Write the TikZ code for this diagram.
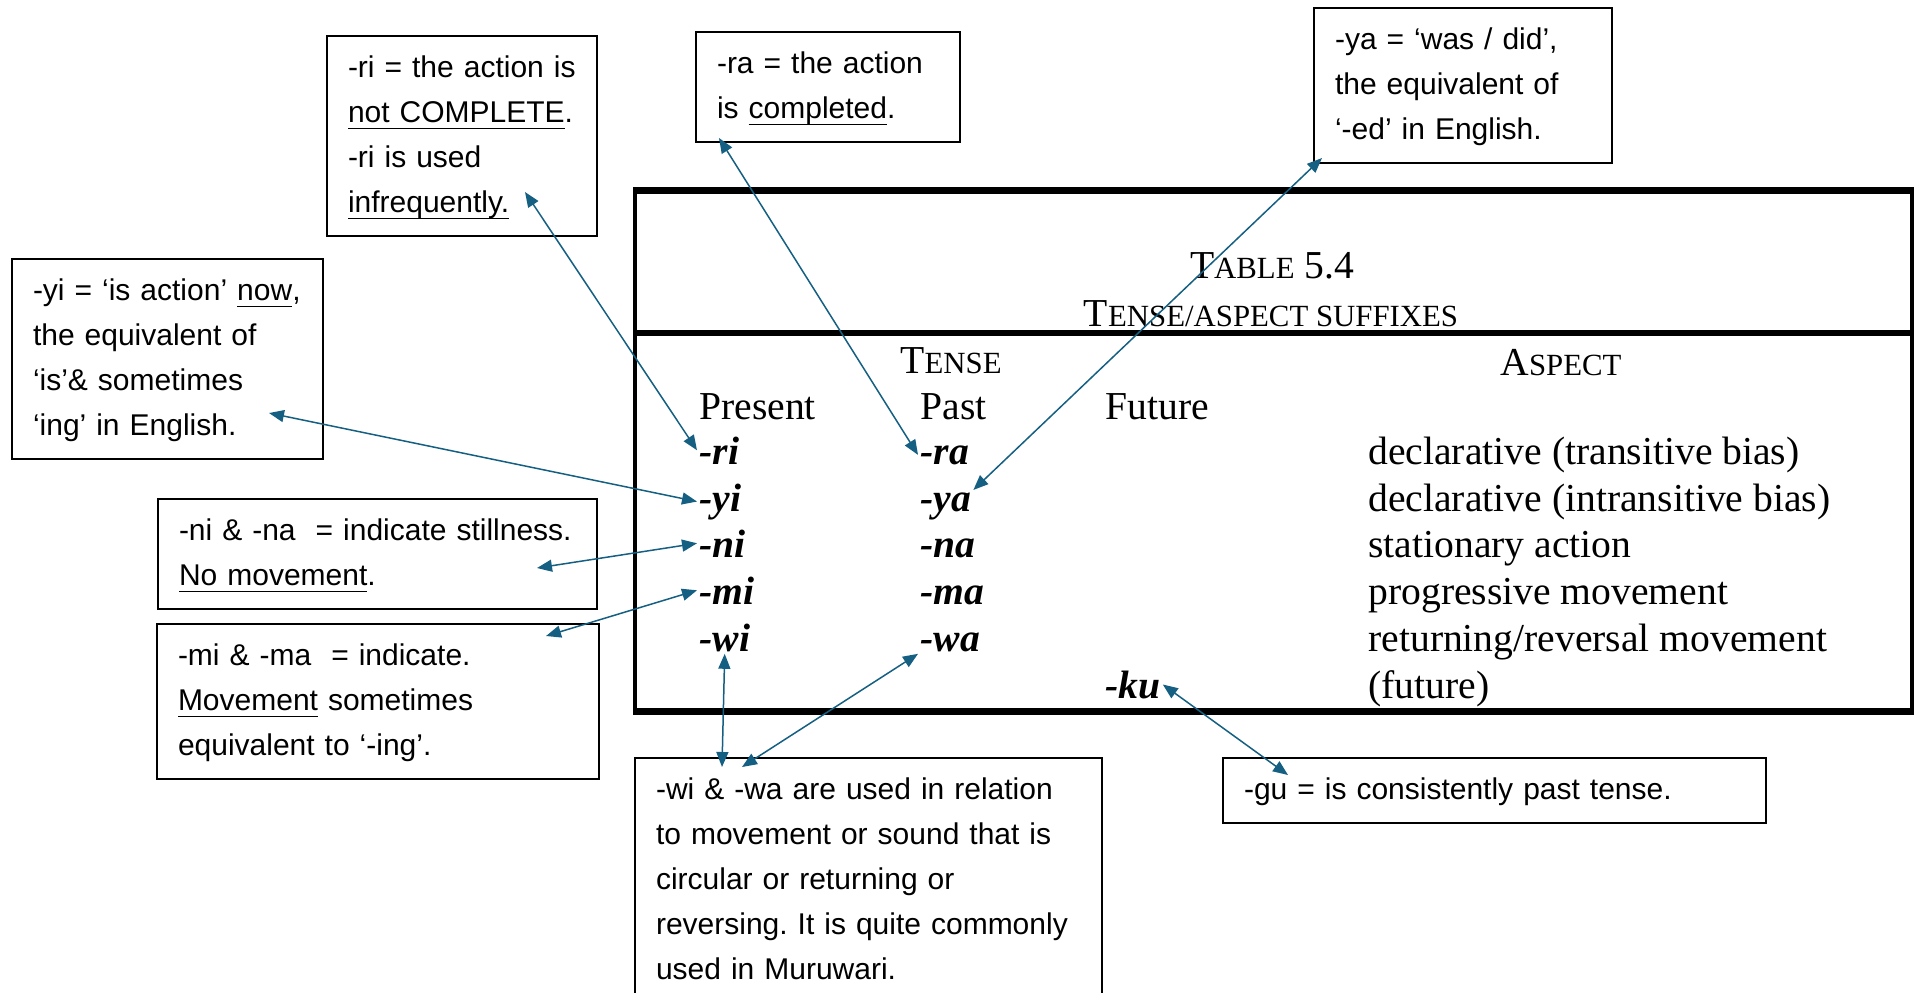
\documentclass[tikz,border=0pt]{standalone}
\usepackage{fontspec}
\setmainfont{Liberation Serif}
\newfontfamily\calloutfont{Liberation Sans}
\usetikzlibrary{arrows.meta}
\definecolor{linkblue}{HTML}{156082}
\frenchspacing
\newcommand{\fsc}[1]{{\fontsize{15.4}{18}\selectfont #1}}
\newsavebox{\undlbox}
\newcommand{\undl}[1]{\leavevmode\sbox{\undlbox}{#1}\rlap{\rule[-3.2pt]{\wd\undlbox}{0.7pt}}\usebox{\undlbox}}

\begin{document}
\begin{tikzpicture}[x=0.5pt,y=-0.5pt,
  callout/.style={draw,line width=1pt,anchor=north west,align=left,inner xsep=10.5pt,inner ysep=5pt,
    font=\calloutfont\fontsize{15}{22.5}\selectfont,execute at begin node=\strut,execute at end node=\strut},
  tabtext/.style={anchor=base west,inner sep=1pt,font=\fontsize{19.8}{24}\selectfont},
  suffix/.style={anchor=base west,inner sep=1pt,font=\fontsize{19.8}{24}\selectfont\bfseries\itshape},
  tabhead/.style={anchor=base,inner sep=1pt,font=\fontsize{19.8}{24}\selectfont},
  rule/.style={line width=3pt},
  link/.style={{Triangle[length=7.5pt,width=6pt]}-{Triangle[length=7.5pt,width=6pt]},linkblue,line width=0.75pt}]

\clip (0,0) rectangle (1914,992);

% the table
\node (tbl) at (633,190)[anchor=north west,draw,line width=1.75pt,inner sep=0pt,minimum width=638.5pt,minimum height=259pt] {};
\draw [rule] (tbl.north west) -- (tbl.north east);
\draw [rule] (tbl.west |- 0,333) -- (tbl.east |- 0,333);
\draw [rule] (tbl.south west) -- (tbl.south east);

\node (title) at (1272,278)[tabhead] {T\fsc{ABLE} 5.4};
\node (subtitle) at (1271,326)[tabhead] {T\fsc{ENSE/ASPECT SUFFIXES}};
\node (tense) at (951,373)[tabhead] {T\fsc{ENSE}};
\node (aspect) at (1561,375)[tabhead] {A\fsc{SPECT}};
\node (present) at (697,419)[tabtext] {Present};
\node (past) at (918,419)[tabtext] {Past};
\node (future) at (1103,419)[tabtext] {Future};

\node (ri) at (697,464)[suffix] {-ri};
\node (yi) at (697,511)[suffix] {-yi};
\node (ni) at (697,557)[suffix] {-ni};
\node (mi) at (697,604)[suffix] {-mi};
\node (wi) at (697,651)[suffix] {-wi};
\node (ra) at (918,464)[suffix] {-ra};
\node (ya) at (918,511)[suffix] {-ya};
\node (na) at (918,557)[suffix] {-na};
\node (ma) at (918,604)[suffix] {-ma};
\node (wa) at (918,651)[suffix] {-wa};
\node (ku) at (1103,698)[suffix] {-ku};

\node (a1) at (1366,464)[tabtext] {declarative (transitive bias)};
\node (a2) at (1366,511)[tabtext] {declarative (intransitive bias)};
\node (a3) at (1366,557)[tabtext] {stationary action};
\node (a4) at (1366,604)[tabtext] {progressive movement};
\node (a5) at (1366,651)[tabtext] {returning/reversal movement};
\node (a6) at (1366,698)[tabtext] {(future)};

% the notes
\node (cri) at (326,35)[callout,text width=114pt] {-ri = the action is\\\undl{not COMPLETE}.\\-ri is used\\\undl{infrequently.}};
\node (cra) at (695,31)[callout,text width=111pt] {-ra = the action\\is \undl{completed}.};
\node (cya) at (1313,7)[callout,text width=128pt] {-ya = ‘was / did’,\\the equivalent of\\‘-ed’ in English.};
\node (cyi) at (11,258)[callout,text width=134.5pt] {-yi = ‘is action’ \undl{now},\\the equivalent of\\‘is’\& sometimes\\‘ing’ in English.};
\node (cni) at (157,498)[callout,text width=198.5pt] {-ni \& -na~ = indicate stillness.\\\undl{No movement}.};
\node (cmi) at (156,623)[callout,text width=200pt] {-mi \& -ma~ = indicate.\\\undl{Movement} sometimes\\equivalent to ‘-ing’.};
\node (cwi) at (634,757)[callout,text width=212.5pt] {-wi \& -wa are used in relation\\to movement or sound that is\\circular or returning or\\reversing. It is quite commonly\\used in Muruwari.};
\node (cgu) at (1222,757)[callout,text width=250.5pt] {-gu = is consistently past tense.};

\coordinate (Tri) at (525,192);
\coordinate (Tra) at (719,138);
\coordinate (Tya) at (1322,158);
\coordinate (Tyi) at (269,413);
\coordinate (Tni) at (537,568);
\coordinate (Tmi) at (546,636);
\coordinate (Twi) at (722,767);
\coordinate (Twa) at (742,767);
\coordinate (Tgu) at (1288,775);

\draw [link] (Tri) -- (ri.west);
\draw [link] (Tra) -- (ra.west);
\draw [link] (Tya) -- (ya.north east);
\draw [link] (Tyi) -- (yi.west);
\draw [link] (Tni) -- (ni.west);
\draw [link] (Tmi) -- (mi.west);
\draw [link] (Twi) -- (wi.south);
\draw [link] (Twa) -- (wa.south west);
\draw [link] (Tgu) -- (ku.east);
\end{tikzpicture}
\end{document}
